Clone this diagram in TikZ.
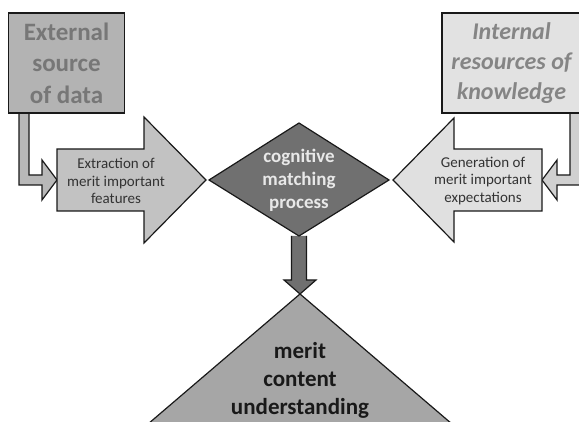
\documentclass[tikz,border=0pt]{standalone}
\usepackage{fontspec}
\setmainfont{Carlito}
\usetikzlibrary{calc}
\definecolor{extfill}{HTML}{B3B3B3}
\definecolor{exttext}{HTML}{777777}
\definecolor{extbent}{HTML}{B8B8B8}
\definecolor{extrfill}{HTML}{C2C2C2}
\definecolor{intfill}{HTML}{E2E2E2}
\definecolor{inttext}{HTML}{858585}
\definecolor{intbent}{HTML}{D0D0D0}
\definecolor{genfill}{HTML}{E0E0E0}
\definecolor{matchfill}{HTML}{707070}
\definecolor{matchtext}{HTML}{E8E8E8}
\definecolor{meritfill}{HTML}{A6A6A6}

\begin{document}
\begin{tikzpicture}[x=1pt, y=-1pt]
            \tikzstyle{outline} = [draw=black!90, line width=1.2pt, line join=miter]
            \tikzstyle{small} = [align=center, text=black!80, font=\fontsize{15}{17.5}\selectfont]
            \useasboundingbox (0,0) rectangle (579,422);
            \coordinate (extr tail) at (57,180);
            \coordinate (gen tail) at (542,180);
            \coordinate (match top) at (299,123);
            \coordinate (match bottom) at (299,236);
            \coordinate (merit apex) at (300,294);
            % bent arrows from the sources
            \draw[outline, fill=extbent] (19,113) -- (19,185) -- (42,185) -- (42,200)
                -- (extr tail) -- (42,160) -- (42,175) -- (29,175) -- (29,113) -- cycle;
            \draw[outline, fill=intbent] (570,113) -- (570,175) -- (557,175) -- (557,160)
                -- (gen tail) -- (557,200) -- (557,185) -- (582,185) -- (582,113) -- cycle;
            \node[outline, fill=extfill, text=exttext, minimum width=116pt, minimum height=100pt,
                inner sep=1pt, align=center, font=\bfseries\fontsize{25}{31.5}\selectfont]
                (ext) at (66.5,63) {External\\source\\of data};
            \node[outline, fill=intfill, text=inttext, minimum width=139pt, minimum height=100pt,
                inner sep=1pt, align=center, font=\bfseries\itshape\fontsize{24}{30}\selectfont]
                (int) at (511.5,63) {Internal\\resources of\\knowledge};
            % big arrows
            \draw[outline, fill=extrfill] (extr tail) |- (144,149) -- (144,117) -- (206,180)
                -- (144,243) -- (144,211) -| cycle;
            \draw[outline, fill=genfill] (gen tail) |- (454,149) -- (454,118) -- (393,180)
                -- (454,242) -- (454,211) -| cycle;
            \node[small] (extr) at (116,181) {Extraction of\\merit important\\features};
            \node[small] (gen) at (483,181) {Generation of\\merit important\\expectations};
            % down arrow and matching
            \draw[outline, fill=matchfill] ($(match bottom)+(-7.5,0)$) -- (291.5,280) -- (284,280)
                -- (merit apex) -- (316,280) -- (306.5,280) -- ($(match bottom)+(7.5,0)$);
            \draw[outline, fill=matchfill] (209,180) -- (match top) -- (389,180) -- (match bottom) -- cycle;
            \node[text=matchtext, align=center, font=\bfseries\fontsize{19}{23}\selectfont]
                (match) at (299,180) {cognitive\\matching\\process};
            \draw[outline, fill=meritfill] (merit apex) -- (148,424) -- (452,424) -- cycle;
            \node[align=center, text=black!90, font=\bfseries\fontsize{23}{28}\selectfont]
                (merit) at (300,380) {merit\\content\\understanding};
        \end{tikzpicture}
\end{document}
